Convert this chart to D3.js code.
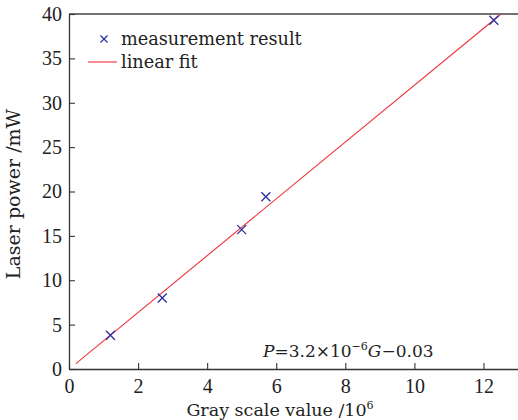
<!DOCTYPE html>
<html lang="en">
  <head>
    <meta charset="UTF-8" />
    <title>Laser power vs gray scale value</title>
    <script src="https://d3js.org/d3.v7.min.js"></script>
    <style>
      body {
        margin: 0;
        background: #fff;
        font-family: "DejaVu Serif", serif;
      }
      svg text {
        fill: #222;
      }
      .tick text {
        font-family: "Liberation Serif", serif;
      }
    </style>
  </head>
  <body>
    <svg width="518" height="420"></svg>
    <script>
      // measured points (gray scale /10^6, power mW)
      const grayValues = [1.2, 2.7, 5.0, 5.7, 12.3];
      const powerValues = [3.8, 8.0, 15.7, 19.4, 39.3];
      // fit line end points
      const fitX = [0.2, 12.5];
      const slope = 3.2;
      const intercept = -0.03;
      const xTicks = [0, 2, 4, 6, 8, 10, 12];
      const yTicks = [0, 5, 10, 15, 20, 25, 30, 35, 40];

      const svg = d3.select("svg");
      const mLeft = 69, mRight = 518, mTop = 14, mBottom = 369;

      const x = d3.scaleLinear().domain([0, 13]).range([mLeft, mRight]);
      const y = d3.scaleLinear().domain([0, 40]).range([mBottom, mTop]);

      // frame
      svg.append("line")
        .attr("x1", mLeft).attr("x2", mRight)
        .attr("y1", mTop).attr("y2", mTop)
        .attr("stroke", "#444").attr("stroke-width", 1.3);

      const xAxis = svg.append("g")
        .attr("transform", `translate(0,${mBottom})`)
        .call(d3.axisBottom(x).tickValues(xTicks).tickSizeInner(-6).tickSizeOuter(0));
      const yAxis = svg.append("g")
        .attr("transform", `translate(${mLeft},0)`)
        .call(d3.axisLeft(y).tickValues(yTicks).tickSizeInner(-6).tickSizeOuter(0).tickPadding(7));

      [xAxis, yAxis].forEach((g) => {
        g.attr("font-family", null);
        g.select(".domain").attr("stroke", "#333").attr("stroke-width", 1.3);
        g.selectAll(".tick line").attr("stroke", "#333").attr("stroke-width", 1.1);
        g.selectAll(".tick text")
          .style("font-family", "'Liberation Serif', serif")
          .attr("font-size", 20)
          .attr("fill", "#222");
      });
      xAxis.selectAll(".tick text").attr("y", 24).attr("dy", null);

      // fit line
      svg.append("line")
        .attr("x1", x(fitX[0])).attr("y1", y(slope * fitX[0] + intercept))
        .attr("x2", x(fitX[1])).attr("y2", y(slope * fitX[1] + intercept))
        .attr("stroke", "#f0303a").attr("stroke-width", 1.1);

      // markers
      const cross = (g, cx, cy, s) => {
        g.append("path")
          .attr("d", `M${cx - s},${cy - s}L${cx + s},${cy + s}M${cx - s},${cy + s}L${cx + s},${cy - s}`)
          .attr("stroke", "#2b2fa0").attr("stroke-width", 1.3).attr("fill", "none");
      };
      const pts = svg.append("g");
      grayValues.forEach((g, i) => cross(pts, x(g), y(powerValues[i]), 4.5));

      // legend
      const leg = svg.append("g");
      cross(leg, 104, 39, 3.5);
      leg.append("text").attr("x", 121).attr("y", 45).attr("font-size", 17.7).text("measurement result");
      leg.append("line").attr("x1", 88).attr("x2", 117).attr("y1", 62).attr("y2", 62)
        .attr("stroke", "#f0303a").attr("stroke-width", 1.1);
      leg.append("text").attr("x", 121).attr("y", 68).attr("font-size", 17.7).text("linear fit");

      // equation
      const eq = svg.append("text").attr("x", 263).attr("y", 357).attr("font-size", 17);
      eq.append("tspan").attr("font-style", "italic").text("P");
      eq.append("tspan").text("=3.2×10");
      eq.append("tspan").attr("font-size", 11).attr("dy", -7).text("−6");
      eq.append("tspan").attr("font-style", "italic").attr("dy", 7).text("G");
      eq.append("tspan").text("−0.03");

      // axis titles
      const xl = svg.append("text").attr("x", 280).attr("y", 416).attr("text-anchor", "middle").attr("font-size", 17.5);
      xl.append("tspan").text("Gray scale value /10");
      xl.append("tspan").attr("font-size", 11).attr("dy", -7).text("6");

      svg.append("text")
        .attr("transform", "translate(20,194) rotate(-90)")
        .attr("text-anchor", "middle").attr("font-size", 19)
        .text("Laser power /mW");
    </script>
  </body>
</html>
